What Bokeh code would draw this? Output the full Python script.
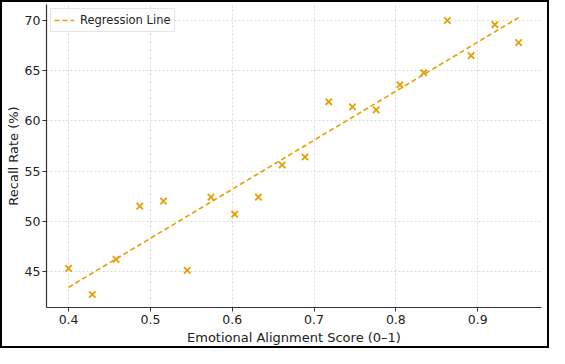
import numpy as np
from bokeh.plotting import figure
from bokeh.models import Range1d, FixedTicker, Legend, LegendItem
from bokeh.embed import file_html
from bokeh.resources import INLINE

# Data
alignment_score = [0.400, 0.429, 0.458, 0.487, 0.516, 0.545, 0.574, 0.603, 0.632, 0.661,
                   0.689, 0.718, 0.747, 0.776, 0.805, 0.834, 0.863, 0.892, 0.921, 0.950]
recall_rate = [45.3, 42.7, 46.2, 51.5, 52.0, 45.1, 52.4, 50.7, 52.4, 55.6,
               56.4, 61.9, 61.4, 61.1, 63.6, 64.8, 70.0, 66.5, 69.6, 67.8]
x_ticks = [0.4, 0.5, 0.6, 0.7, 0.8, 0.9]
y_ticks = [45, 50, 55, 60, 65, 70]

slope, intercept = np.polyfit(alignment_score, recall_rate, 1)
line_x = [min(alignment_score), max(alignment_score)]
line_y = [slope * v + intercept for v in line_x]

ORANGE = "#E69F00"
FONT = "DejaVu Sans"

p = figure(width=545, height=344, output_backend="svg", toolbar_location=None,
           x_range=Range1d(0.373, 0.978), y_range=Range1d(41.4, 71.6),
           min_border_left=37, min_border_right=10, min_border_top=2, min_border_bottom=43)
p.styles = {"border": "2px solid black", "box-sizing": "content-box"}
p.outline_line_color = None
p.background_fill_color = "white"
p.border_fill_color = "white"

for ax in (p.xaxis[0], p.yaxis[0]):
    ax.axis_line_color = "#333333"
    ax.axis_line_width = 1.2
    ax.major_tick_line_color = "#333333"
    ax.major_tick_in = 0
    ax.major_tick_out = 4
    ax.minor_tick_line_color = None
    ax.major_label_text_font = FONT
    ax.major_label_text_font_size = "12.5px"
    ax.major_label_text_color = "#222222"
    ax.axis_label_text_font = FONT
    ax.axis_label_text_font_size = "13px"
    ax.axis_label_text_font_style = "normal"
    ax.axis_label_text_color = "#222222"

p.xaxis.ticker = FixedTicker(ticks=x_ticks)
p.yaxis.ticker = FixedTicker(ticks=y_ticks)
p.xaxis.axis_label = "Emotional Alignment Score (0–1)"
p.yaxis.axis_label = "Recall Rate (%)"
p.xaxis.axis_label_standoff = 3
p.yaxis.axis_label_standoff = 1
p.xaxis.major_label_standoff = 3
p.yaxis.major_label_standoff = 2

for g in (p.xgrid[0], p.ygrid[0]):
    g.grid_line_color = "#d0d0d0"
    g.grid_line_dash = "2 2"
    g.grid_line_width = 0.8

p.scatter(alignment_score, recall_rate, marker="x", size=9, line_color=ORANGE, line_width=1.8)
r_line = p.line(line_x, line_y, line_color=ORANGE, line_width=1.6, line_dash="5 3")

legend = Legend(items=[LegendItem(label="Regression Line", renderers=[r_line])],
                location="top_left")
legend.label_text_font = FONT
legend.label_text_font_size = "11.5px"
legend.label_text_color = "#222222"
legend.border_line_color = "#cccccc"
legend.border_line_width = 1
legend.background_fill_alpha = 0.8
legend.padding = 3
legend.margin = 4
legend.glyph_width = 20
legend.glyph_height = 16
legend.label_height = 16
legend.label_standoff = 6
legend.spacing = 0
p.add_layout(legend)

open("out.html", "w").write(file_html(p, INLINE))
